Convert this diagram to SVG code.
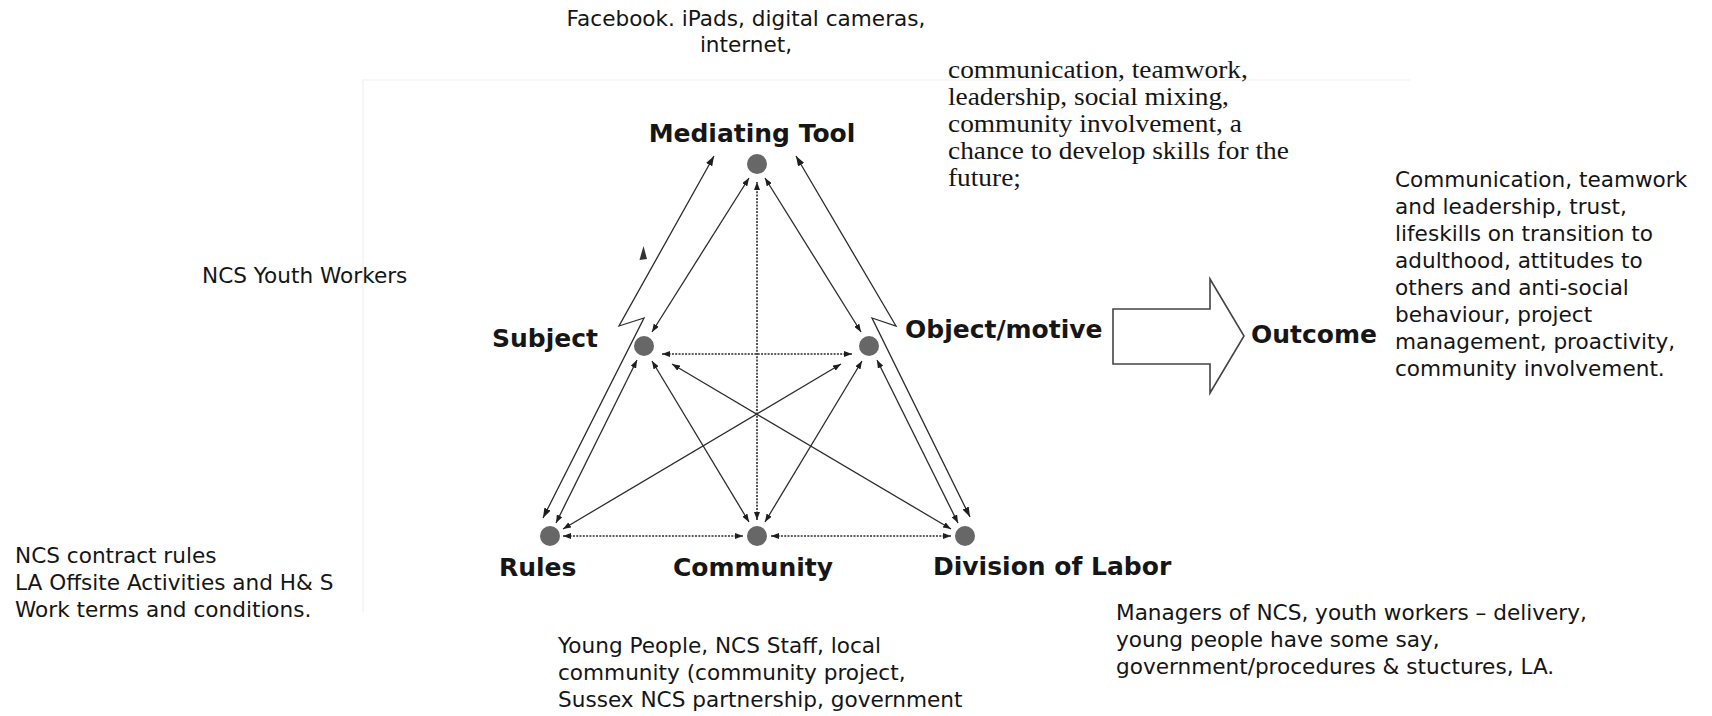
<svg xmlns="http://www.w3.org/2000/svg" width="1712" height="716" viewBox="0 0 1712 716">
  <style>
    .lbl{font-family:"DejaVu Sans","Liberation Sans",sans-serif;font-weight:bold;font-size:25px;fill:#161616}
    .note{font-family:"DejaVu Sans","Liberation Sans",sans-serif;font-size:21.6px;fill:#151515}
    .serif{font-family:"Liberation Serif","Times New Roman",serif;font-size:24.2px;fill:#151515}
    .con{stroke:#2c2c2c;stroke-width:1.3;fill:none;marker-start:url(#ah);marker-end:url(#ah)}
    .dash{stroke:#2c2c2c;stroke-width:1.6;stroke-dasharray:2 1.3;fill:none;marker-start:url(#ah);marker-end:url(#ah)}
    .bolt{stroke:#2c2c2c;stroke-width:1.3;fill:none;stroke-linejoin:miter;marker-start:url(#ahL);marker-end:url(#ahL)}
    .dotnode{fill:#676767}
    .frame{stroke:#f0f0f0;stroke-width:1.2;fill:none}
  </style>
  <defs>
    <marker id="ah" viewBox="0 0 8 6" refX="8" refY="3" markerWidth="8" markerHeight="6" markerUnits="userSpaceOnUse" orient="auto-start-reverse">
      <path d="M0,0 L8,3 L0,6 z" fill="#1e1e1e"/>
    </marker>
    <marker id="ahL" viewBox="0 0 10 7" refX="10" refY="3.5" markerWidth="10" markerHeight="7" markerUnits="userSpaceOnUse" orient="auto-start-reverse">
      <path d="M0,0 L10,3.5 L0,7 z" fill="#1e1e1e"/>
    </marker>
  </defs>

  <rect width="1712" height="716" fill="#ffffff"/>

  <!-- faint border of the inner activity-system panel -->
  <path class="frame" d="M363,612 V80 H1410"/>

  <!-- connectors between the six activity-system elements -->
  <g id="connectors">
    <!-- outer lightning arrows: tool to rules, tool to division of labour -->
    <path class="bolt" d="M714,156 L619,326 L644,318 L543,518"/>
    <path class="bolt" d="M796,156 L896,326 L872,318 L970,517"/>
    <path d="M639.5,260 L643.5,246 L647,259 Z" fill="#333"/>

    <!-- triangle sides and internal links -->
    <line class="con" x1="652" y1="332" x2="749" y2="178"/>
    <line class="con" x1="861" y1="332" x2="765" y2="178"/>
    <line class="dash" x1="757" y1="520" x2="757" y2="182"/>
    <line class="dash" x1="662" y1="354" x2="852" y2="354"/>
    <line class="con" x1="637" y1="360" x2="556" y2="523"/>
    <line class="con" x1="652" y1="361" x2="749" y2="522"/>
    <line class="con" x1="672" y1="364" x2="951" y2="529"/>
    <line class="con" x1="841" y1="364" x2="563" y2="529"/>
    <line class="con" x1="862" y1="361" x2="765" y2="522"/>
    <line class="con" x1="877" y1="360" x2="958" y2="523"/>
    <line class="dash" x1="563" y1="536" x2="743" y2="536"/>
    <line class="dash" x1="771" y1="536" x2="951" y2="536"/>

    <!-- block arrow from object/motive to outcome -->
    <path d="M1113,309 H1210 V279 L1244,336 L1210,393 V364 H1113 Z" fill="#ffffff" stroke="#444" stroke-width="1.6"/>
  </g>

  <g id="mediating-tool">
    <circle class="dotnode" cx="757" cy="164" r="10"/>
    <text class="lbl" x="752" y="142" text-anchor="middle">Mediating Tool</text>
    <text class="note" x="746" y="26" text-anchor="middle">Facebook.  iPads, digital cameras,</text>
    <text class="note" x="746" y="52" text-anchor="middle">internet,</text>
  </g>

  <g id="subject">
    <circle class="dotnode" cx="644" cy="346" r="10"/>
    <text class="lbl" x="598" y="347" text-anchor="end">Subject</text>
    <text class="note" x="202" y="283">NCS Youth Workers</text>
  </g>

  <g id="object-motive">
    <circle class="dotnode" cx="869" cy="346" r="10"/>
    <text class="lbl" x="905" y="338">Object/motive</text>
    <!-- serif note, widened to the column it sits in -->
    <g transform="translate(948 0) scale(1.13 1)">
      <text class="serif" x="0" y="78">communication, teamwork,</text>
      <text class="serif" x="0" y="105">leadership, social mixing,</text>
      <text class="serif" x="0" y="132">community involvement, a</text>
      <text class="serif" x="0" y="159">chance to develop skills for the</text>
      <text class="serif" x="0" y="186">future;</text>
    </g>
  </g>

  <g id="outcome">
    <text class="lbl" x="1251" y="343">Outcome</text>
    <text class="note" x="1395" y="187">Communication, teamwork</text>
    <text class="note" x="1395" y="214">and leadership, trust,</text>
    <text class="note" x="1395" y="241">lifeskills on transition to</text>
    <text class="note" x="1395" y="268">adulthood, attitudes to</text>
    <text class="note" x="1395" y="295">others and anti-social</text>
    <text class="note" x="1395" y="322">behaviour, project</text>
    <text class="note" x="1395" y="349">management, proactivity,</text>
    <text class="note" x="1395" y="376">community involvement.</text>
  </g>

  <g id="rules">
    <circle class="dotnode" cx="550" cy="536" r="10"/>
    <text class="lbl" x="499" y="576">Rules</text>
    <text class="note" x="15" y="563">NCS contract rules</text>
    <text class="note" x="15" y="590">LA Offsite Activities and H&amp; S</text>
    <text class="note" x="15" y="617">Work terms and conditions.</text>
  </g>

  <g id="community">
    <circle class="dotnode" cx="757" cy="536" r="10"/>
    <text class="lbl" x="753" y="576" text-anchor="middle">Community</text>
    <text class="note" x="558" y="653">Young People, NCS Staff,  local</text>
    <text class="note" x="558" y="680">community (community project,</text>
    <text class="note" x="558" y="707">Sussex NCS partnership, government</text>
  </g>

  <g id="division-of-labor">
    <circle class="dotnode" cx="965" cy="536" r="10"/>
    <text class="lbl" x="933" y="575">Division of Labor</text>
    <text class="note" x="1116" y="620">Managers of NCS, youth workers – delivery,</text>
    <text class="note" x="1116" y="647">young people have some say,</text>
    <text class="note" x="1116" y="674">government/procedures &amp; stuctures, LA.</text>
  </g>
</svg>
